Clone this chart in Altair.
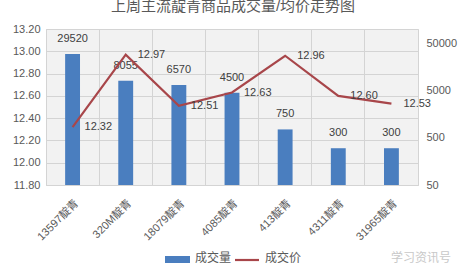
import altair as alt
import pandas as pd

categories = ["13597靛青", "320M靛青", "18079靛青", "4085靛青", "413靛青", "4311靛青", "31965靛青"]
volumes = [29520, 8055, 6570, 4500, 750, 300, 300]
prices = [12.32, 12.97, 12.51, 12.63, 12.96, 12.60, 12.53]
price_ticks = [11.8, 12.0, 12.2, 12.4, 12.6, 12.8, 13.0, 13.2]
vol_ticks = [50, 500, 5000, 50000]
title_text = "上周主流靛青商品成交量/均价走势图"
legend_items = ["成交量", "成交价"]

df = pd.DataFrame({"cat": categories, "vol": volumes, "price": prices})
one = pd.DataFrame({"a": [0]})

FONT = "Liberation Sans, Noto Sans CJK SC"
GREY = "#595959"
BAR = "#4a7ebf"
LINE = "#a8464a"

x_enc = alt.X(
    "cat:N", sort=categories,
    scale=alt.Scale(paddingInner=0, paddingOuter=0),
    axis=alt.Axis(title=None, labelAngle=-45, grid=True, bandPosition=0,
                  gridColor="#d4d4d4", ticks=False, domainColor="#d4d4d4",
                  labelFont=FONT, labelFontSize=11, labelColor=GREY,
                  labelPadding=12),
)

y_vol = alt.Y(
    "vol:Q",
    scale=alt.Scale(type="log", domain=[50, 100000], nice=False),
    axis=alt.Axis(title=None, orient="right", values=vol_ticks, format="d",
                  grid=False, labelOverlap=False, tickCount=10,
                  ticks=False, domain=False, labelFont=FONT, labelFontSize=11,
                  labelColor=GREY, labelPadding=8),
)

bars = alt.Chart(df).mark_bar(color=BAR, width={"band": 0.28}).encode(
    x=x_enc, y=y_vol, y2=alt.Y2(datum=50))
bar_text = alt.Chart(df).mark_text(
    font=FONT, fontSize=11, color="#404040", baseline="middle", dy=-15
).encode(x=alt.X("cat:N", sort=categories), y=alt.Y("vol:Q"), text="vol:Q")

y_price = alt.Y(
    "price:Q",
    scale=alt.Scale(domain=[11.8, 13.2], nice=False, zero=False),
    axis=alt.Axis(title=None, orient="left", values=price_ticks, format=".2f",
                  grid=True, gridColor="#d4d4d4", ticks=False, domain=False,
                  labelOverlap=False, tickCount=10,
                  labelFont=FONT, labelFontSize=11, labelColor=GREY,
                  labelPadding=6),
)

line = alt.Chart(df).mark_line(color=LINE, strokeWidth=2.2).encode(
    x=alt.X("cat:N", sort=categories), y=y_price)
line_text = alt.Chart(df).mark_text(
    font=FONT, fontSize=11, color="#404040", align="left", baseline="middle", dx=12
).encode(x=alt.X("cat:N", sort=categories), y=alt.Y("price:Q"),
         text=alt.Text("price:Q", format=".2f"))

title = alt.Chart(one).mark_text(
    text=title_text, font=FONT, fontSize=15, color=GREY, baseline="middle"
).encode(x=alt.value(187), y=alt.value(-23))

leg_rect = alt.Chart(one).mark_rect(color=BAR).encode(
    x=alt.value(119), x2=alt.value(144), y=alt.value(227), y2=alt.value(234))
leg_t1 = alt.Chart(one).mark_text(
    text=legend_items[0], font=FONT, fontSize=12, color=GREY, align="left", baseline="middle"
).encode(x=alt.value(149), y=alt.value(229))
leg_rule = alt.Chart(one).mark_rule(color=LINE, strokeWidth=2.2).encode(
    x=alt.value(189), x2=alt.value(213), y=alt.value(231))
leg_t2 = alt.Chart(one).mark_text(
    text=legend_items[1], font=FONT, fontSize=12, color=GREY, align="left", baseline="middle"
).encode(x=alt.value(219), y=alt.value(229))
watermark = alt.Chart(one).mark_text(
    text="学习资讯号", font=FONT, fontSize=12, color="#c8c8c8", align="left", baseline="middle"
).encode(x=alt.value(345), y=alt.value(229))

chart = alt.layer(
    alt.layer(bars, bar_text),
    alt.layer(line, line_text),
    title, leg_rect, leg_t1, leg_rule, leg_t2, watermark,
).resolve_scale(y="independent").properties(
    width=372, height=156,
    autosize=alt.AutoSizeParams(type="none"),
    padding={"left": 46, "top": 29, "right": 50, "bottom": 79},
    background="white",
).configure_view(fill="#f2f2f2", stroke="#d4d4d4")

chart.save("out.html", embed_options={"renderer": "svg", "actions": False})
